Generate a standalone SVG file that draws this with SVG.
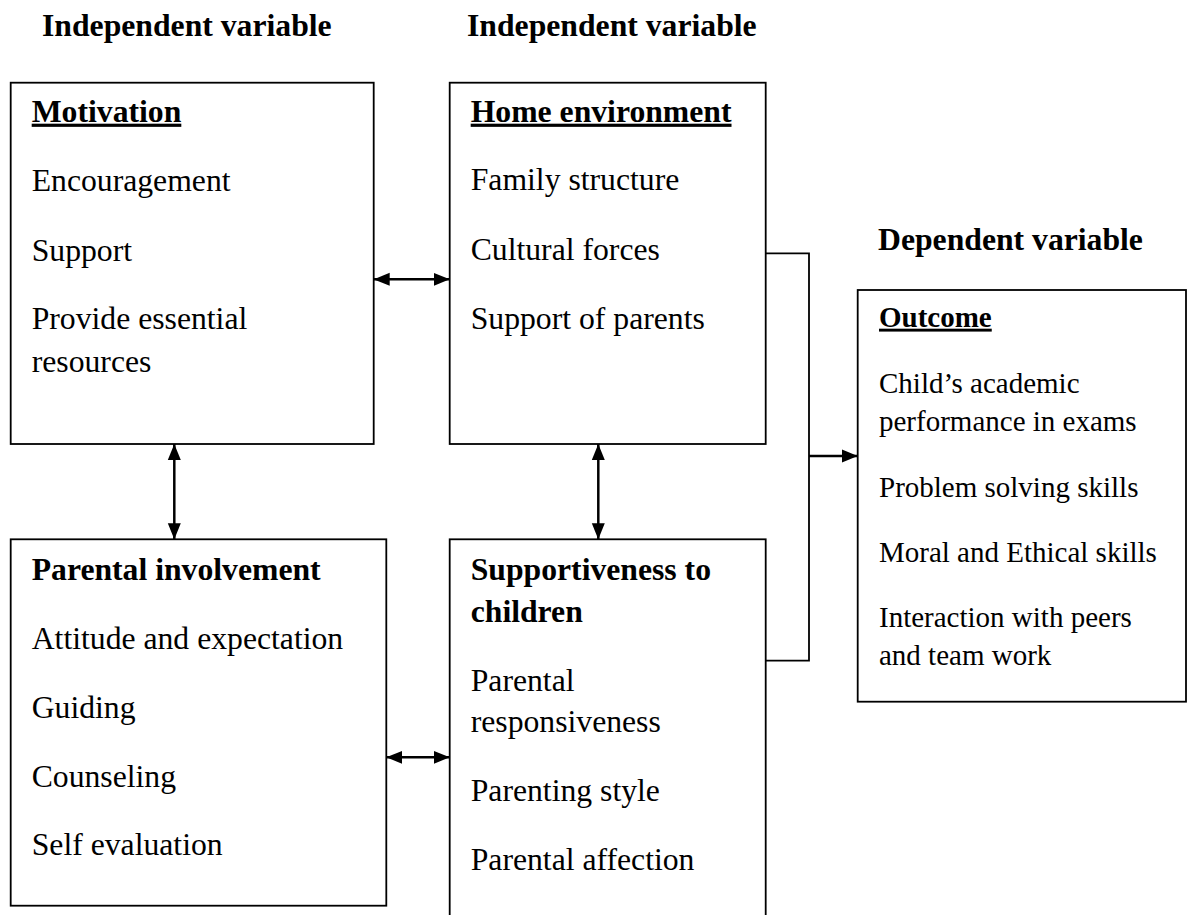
<svg xmlns="http://www.w3.org/2000/svg" width="1188" height="915" viewBox="0 0 1188 915" font-family="'Liberation Serif', 'DejaVu Serif', serif">
<style>
text{font-family:'Liberation Serif','DejaVu Serif',serif;fill:#000}
.t{font-size:31.7px}
.b{font-weight:bold}
.u{text-decoration:underline}
.o{font-size:29px}
.box{fill:#fff;stroke:#000;stroke-width:1.8}
.con{fill:none;stroke:#000;stroke-width:2.5}
.el{fill:none;stroke:#000;stroke-width:1.8}
</style>
<defs>
<marker id="ah" markerUnits="userSpaceOnUse" markerWidth="16" markerHeight="16" refX="16" refY="7" orient="auto-start-reverse">
<path d="M0,0.5 L16,7 L0,13.5 z" fill="#000"/>
</marker>
</defs>
<rect width="1188" height="915" fill="#fff"/>
<g id="titles">
<text class="t b" x="42" y="36">Independent variable</text>
<text class="t b" x="467" y="36">Independent variable</text>
<text class="t b" x="878" y="250">Dependent variable</text>
</g>
<g id="motivation">
<rect class="box" x="10.7" y="82.7" width="363" height="361.3"/>
<text class="t b u" x="31.7" y="121.7">Motivation</text>
<text class="t" x="31.7" y="190.7">Encouragement</text>
<text class="t" x="31.7" y="260.7">Support</text>
<text class="t" x="31.7" y="329.3">Provide essential</text>
<text class="t" x="31.7" y="371.7">resources</text>
</g>
<g id="home">
<rect class="box" x="449.7" y="82.7" width="316" height="361.3"/>
<text class="t b u" x="470.7" y="121.7">Home environment</text>
<text class="t" x="470.7" y="190">Family structure</text>
<text class="t" x="470.7" y="260">Cultural forces</text>
<text class="t" x="470.7" y="329">Support of parents</text>
</g>
<g id="parental">
<rect class="box" x="10.7" y="539.3" width="375.6" height="366.4"/>
<text class="t b" x="31.7" y="580">Parental involvement</text>
<text class="t" x="31.7" y="649.3">Attitude and expectation</text>
<text class="t" x="31.7" y="717.7">Guiding</text>
<text class="t" x="31.7" y="786.7">Counseling</text>
<text class="t" x="31.7" y="855">Self evaluation</text>
</g>
<g id="supportiveness">
<rect class="box" x="449.7" y="539.3" width="316" height="400"/>
<text class="t b" x="470.7" y="580">Supportiveness to</text>
<text class="t b" x="470.7" y="621.7">children</text>
<text class="t" x="470.7" y="690.7">Parental</text>
<text class="t" x="470.7" y="732.3">responsiveness</text>
<text class="t" x="470.7" y="801">Parenting style</text>
<text class="t" x="470.7" y="870">Parental affection</text>
</g>
<g id="outcome">
<rect class="box" x="857.7" y="290" width="328.3" height="411.7"/>
<text class="o b u" x="879" y="326.7">Outcome</text>
<text class="o" x="879" y="392.7">Child’s academic</text>
<text class="o" x="879" y="430.7">performance in exams</text>
<text class="o" x="879" y="496.7">Problem solving skills</text>
<text class="o" x="879" y="561.7">Moral and Ethical skills</text>
<text class="o" x="879" y="627.3">Interaction with peers</text>
<text class="o" x="879" y="665">and team work</text>
</g>
<g id="connectors">
<line class="con" x1="373.7" y1="279.3" x2="449.7" y2="279.3" marker-start="url(#ah)" marker-end="url(#ah)"/>
<line class="con" x1="174.3" y1="444" x2="174.3" y2="539.3" marker-start="url(#ah)" marker-end="url(#ah)"/>
<line class="con" x1="598.3" y1="444" x2="598.3" y2="539.3" marker-start="url(#ah)" marker-end="url(#ah)"/>
<line class="con" x1="386.3" y1="757.3" x2="449.7" y2="757.3" marker-start="url(#ah)" marker-end="url(#ah)"/>
<polyline class="el" points="765.7,253.3 809,253.3 809,660.7 765.7,660.7"/>
<line class="con" x1="809" y1="456" x2="857.7" y2="456" marker-end="url(#ah)"/>
</g>
</svg>
